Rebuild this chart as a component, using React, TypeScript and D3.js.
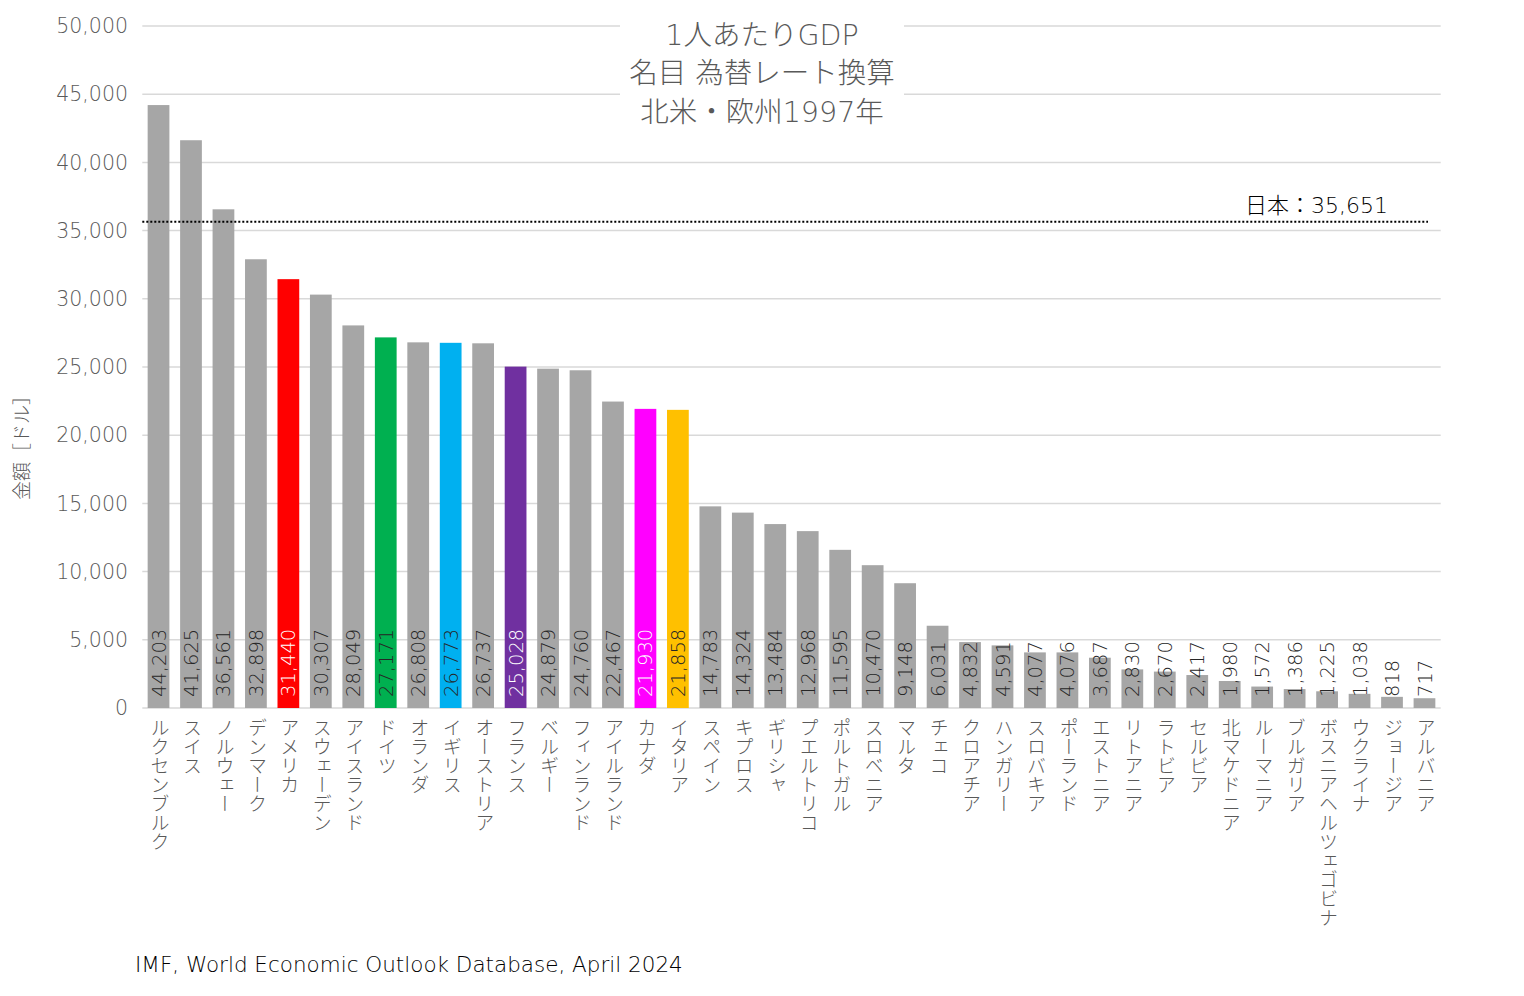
import React from 'react';
import * as d3 from 'd3';

const countries = [
    'ルクセンブルク', 'スイス', 'ノルウェー', 'デンマーク', 'アメリカ', 'スウェーデン', 'アイスランド', 'ドイツ',
    'オランダ', 'イギリス', 'オーストリア', 'フランス', 'ベルギー', 'フィンランド', 'アイルランド', 'カナダ',
    'イタリア', 'スペイン', 'キプロス', 'ギリシャ', 'プエルトリコ', 'ポルトガル', 'スロベニア', 'マルタ',
    'チェコ', 'クロアチア', 'ハンガリー', 'スロバキア', 'ポーランド', 'エストニア', 'リトアニア', 'ラトビア',
    'セルビア', '北マケドニア', 'ルーマニア', 'ブルガリア', 'ボスニアヘルツェゴビナ', 'ウクライナ', 'ジョージア', 'アルバニア',
];

const gdpValues = [
    44203, 41625, 36561, 32898, 31440, 30307, 28049, 27171,
    26808, 26773, 26737, 25028, 24879, 24760, 22467, 21930,
    21858, 14783, 14324, 13484, 12968, 11595, 10470, 9148,
    6031, 4832, 4591, 4077, 4076, 3687, 2830, 2670,
    2417, 1980, 1572, 1386, 1225, 1038, 818, 717,
];

const yTicks = [0, 5000, 10000, 15000, 20000, 25000, 30000, 35000, 40000, 45000, 50000];

const japanValue = 35651;

// highlighted countries
const highlight: Record<string, { fill: string; text: string }> = {
    'アメリカ': { fill: '#ff0000', text: '#ffffff' },
    'ドイツ': { fill: '#00b050', text: '#262626' },
    'イギリス': { fill: '#00b0f0', text: '#262626' },
    'フランス': { fill: '#7030a0', text: '#ffffff' },
    'カナダ': { fill: '#ff00ff', text: '#ffffff' },
    'イタリア': { fill: '#ffc000', text: '#262626' },
};

const titleLines = ['1人あたりGDP', '名目 為替レート換算', '北米・欧州1997年'];

// wide latin glyphs first, CJK falls back
const font = '"DejaVu Sans", "Noto Sans CJK JP", sans-serif';

export default function App() {
    const width = 1524;
    const height = 996;
    const left = 142.3;
    const right = 1440.7;
    const top = 26;
    const bottom = 708;

    const x = d3.scaleBand<string>().domain(countries).range([left, right]).paddingInner(0.33).paddingOuter(0.165);
    const y = d3.scaleLinear().domain([0, 50000]).range([bottom, top]);
    const fmt = d3.format(',');

    const data = countries.map((c, i) => ({ name: c, value: gdpValues[i] }));

    return (
        <svg width={width} height={height} style={{ position: 'absolute', left: 0, top: 0, background: '#fff' }} fontFamily={font} fontWeight={200}>
            {/* gridlines */}
            {yTicks.map(t => (
                <line key={t} x1={left} x2={right} y1={y(t)} y2={y(t)} stroke="#d9d9d9" strokeWidth={1.5} />
            ))}
            {yTicks.map(t => (
                <text key={'l' + t} x={128} y={y(t)} dy="0.35em" textAnchor="end" fontSize={20.5} fill="#595959">
                    {fmt(t)}
                </text>
            ))}

            {/* title box */}
            <rect x={620} y={14} width={284} height={116} fill="#fff" />
            {titleLines.map((t, i) => (
                <text key={t} x={762} y={35 + i * 38.5} dy="0.35em" textAnchor="middle" fontSize={28.5} fill="#595959">
                    {t}
                </text>
            ))}

            {/* bars */}
            {data.map(d => (
                <rect key={d.name} x={x(d.name)} y={y(d.value)} width={x.bandwidth()} height={y(0) - y(d.value)}
                    fill={highlight[d.name]?.fill ?? '#a6a6a6'} />
            ))}

            {/* value labels */}
            {data.map(d => {
                const cx = (x(d.name) as number) + x.bandwidth() / 2;
                return (
                    <text key={'v' + d.name} transform={`translate(${cx},697) rotate(-90)`} dy="0.36em" textAnchor="start"
                        fontSize={19.5} fill={highlight[d.name]?.text ?? '#262626'}>
                        {fmt(d.value)}
                    </text>
                );
            })}

            {/* category labels */}
            {data.map(d => {
                const cx = (x(d.name) as number) + x.bandwidth() / 2;
                return (
                    <text key={'c' + d.name} x={cx} y={718} fontSize={19} fill="#595959"
                        style={{ writingMode: 'vertical-rl' }}>
                        {d.name}
                    </text>
                );
            })}

            {/* Japan line */}
            <line x1={left} x2={1428} y1={y(japanValue)} y2={y(japanValue)} stroke="#000" strokeWidth={2} strokeDasharray="2 2" />
            <text x={1388} y={205} dy="0.35em" textAnchor="end" fontSize={22} fill="#000">
                日本：{fmt(japanValue)}
            </text>

            {/* y axis label */}
            <text transform="translate(22,443) rotate(-90)" dy="0.35em" textAnchor="middle" fontSize={19} fill="#595959">
                金額［ドル］
            </text>

            {/* source */}
            <text x={135} y={964} dy="0.35em" fontSize={21.5} fill="#000">
                IMF, World Economic Outlook Database, April 2024
            </text>
        </svg>
    );
}
